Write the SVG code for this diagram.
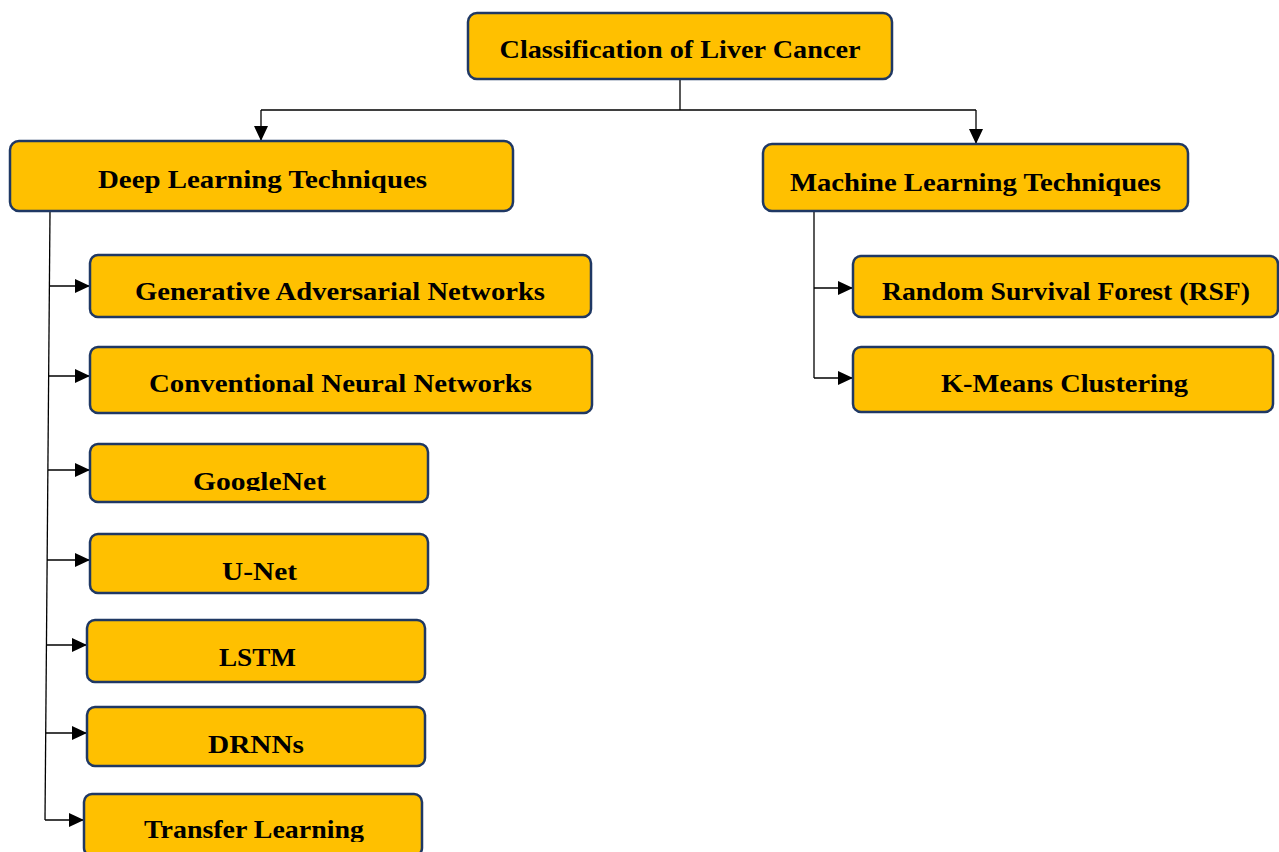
<svg xmlns="http://www.w3.org/2000/svg" width="1279" height="852" viewBox="0 0 1279 852">
<style>
.box{fill:#FFC000;stroke:#1F3864;stroke-width:2.5}
.t{font-family:"Liberation Serif","Times New Roman",serif;font-weight:bold;font-size:26px;fill:#000;text-anchor:middle}
.c{fill:none;stroke:#000;stroke-width:1.3}
</style>
<defs>
<marker id="ah" markerUnits="userSpaceOnUse" markerWidth="15" markerHeight="14" refX="14" refY="7" orient="auto">
<path d="M0,0 L15,7 L0,14 Z" fill="#000"/>
</marker>
<clipPath id="clipG"><rect x="90" y="444" width="338" height="47"/></clipPath>
<clipPath id="clipT"><rect x="84" y="794" width="338" height="48"/></clipPath>
</defs>
<rect width="1279" height="852" fill="#fff"/>
<g id="connectors">
<path class="c" d="M680,80 V110 M261,110 H976"/>
<path class="c" d="M261,110 V140" marker-end="url(#ah)"/>
<path class="c" d="M976,110 V143" marker-end="url(#ah)"/>
<path class="c" d="M50,212 L45,820"/>
<path class="c" d="M49,286 H89" marker-end="url(#ah)"/>
<path class="c" d="M49,376 H89" marker-end="url(#ah)"/>
<path class="c" d="M48,470 H89" marker-end="url(#ah)"/>
<path class="c" d="M47,560 H89" marker-end="url(#ah)"/>
<path class="c" d="M47,645 H86" marker-end="url(#ah)"/>
<path class="c" d="M46,733 H86" marker-end="url(#ah)"/>
<path class="c" d="M45,820 H83" marker-end="url(#ah)"/>
<path class="c" d="M814,212 V378"/>
<path class="c" d="M814,288 H852" marker-end="url(#ah)"/>
<path class="c" d="M814,378 H852" marker-end="url(#ah)"/>
</g>
<g id="root"><rect class="box" x="468" y="13" width="424" height="66" rx="9"/><text class="t" x="680" y="58" textLength="361" lengthAdjust="spacingAndGlyphs">Classification of Liver Cancer</text></g>
<g id="deep"><rect class="box" x="10" y="141" width="503" height="70" rx="9"/><text class="t" x="262.5" y="188" textLength="329" lengthAdjust="spacingAndGlyphs">Deep Learning Techniques</text></g>
<g id="machine"><rect class="box" x="763" y="144" width="425" height="67" rx="9"/><text class="t" x="975.5" y="191" textLength="371" lengthAdjust="spacingAndGlyphs">Machine Learning Techniques</text></g>
<g id="gan"><rect class="box" x="90" y="255" width="501" height="62" rx="8"/><text class="t" x="340" y="300" textLength="410" lengthAdjust="spacingAndGlyphs">Generative Adversarial Networks</text></g>
<g id="cnn"><rect class="box" x="90" y="347" width="502" height="66" rx="8"/><text class="t" x="340.5" y="392" textLength="383" lengthAdjust="spacingAndGlyphs">Conventional Neural Networks</text></g>
<g id="googlenet"><rect class="box" x="90" y="444" width="338" height="58" rx="8"/><text class="t" x="259.5" y="490" textLength="133" lengthAdjust="spacingAndGlyphs" clip-path="url(#clipG)">GoogleNet</text></g>
<g id="unet"><rect class="box" x="90" y="534" width="338" height="59" rx="8"/><text class="t" x="259.5" y="580" textLength="75" lengthAdjust="spacingAndGlyphs">U-Net</text></g>
<g id="lstm"><rect class="box" x="87" y="620" width="338" height="62" rx="8"/><text class="t" x="257.5" y="666" textLength="77" lengthAdjust="spacingAndGlyphs">LSTM</text></g>
<g id="drnns"><rect class="box" x="87" y="707" width="338" height="59" rx="8"/><text class="t" x="256" y="753" textLength="96" lengthAdjust="spacingAndGlyphs">DRNNs</text></g>
<g id="transfer"><rect class="box" x="84" y="794" width="338" height="62" rx="8"/><text class="t" x="254" y="838" textLength="220" lengthAdjust="spacingAndGlyphs" clip-path="url(#clipT)">Transfer Learning</text></g>
<g id="rsf"><rect class="box" x="853" y="256" width="425" height="61" rx="8"/><text class="t" x="1066" y="300" textLength="368" lengthAdjust="spacingAndGlyphs">Random Survival Forest (RSF)</text></g>
<g id="kmeans"><rect class="box" x="853" y="347" width="420" height="65" rx="8"/><text class="t" x="1064.5" y="392" textLength="247" lengthAdjust="spacingAndGlyphs">K-Means Clustering</text></g>
</svg>
